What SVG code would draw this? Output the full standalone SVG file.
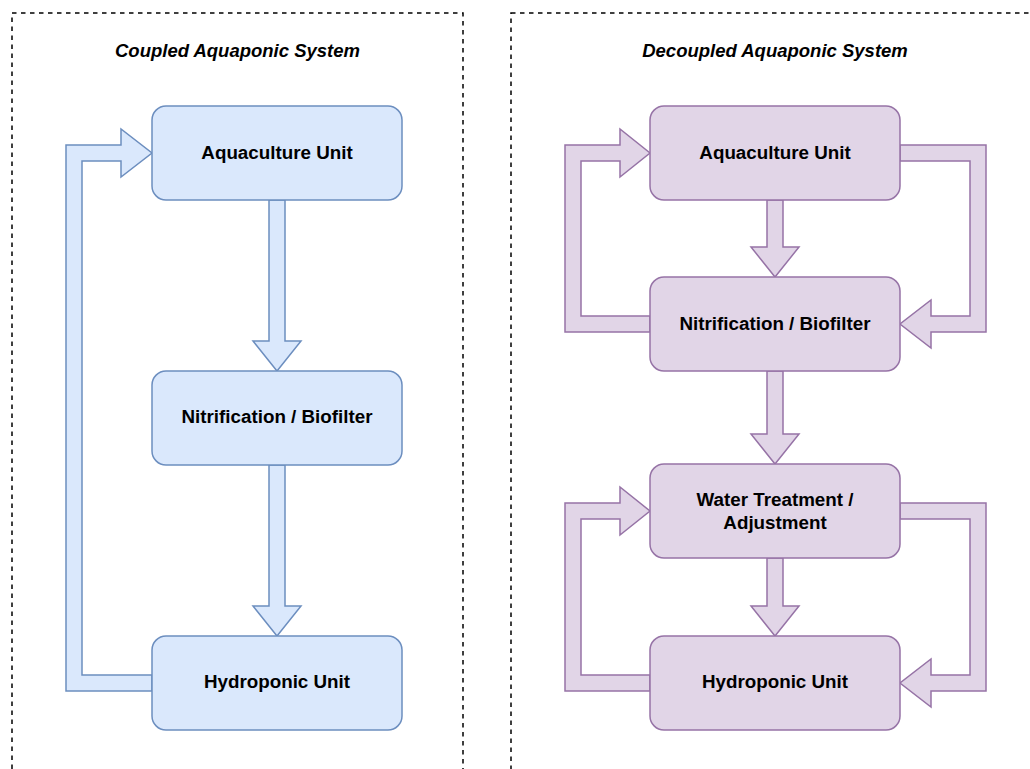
<svg xmlns="http://www.w3.org/2000/svg" width="1030" height="769" viewBox="0 0 1030 769">
  <style>
    .panel { fill: none; stroke: #000000; stroke-width: 1.5; stroke-dasharray: 4.5 4.5; }
    .title { font-family: "Liberation Sans", Arial, Helvetica, sans-serif; font-size: 18.5px; font-weight: bold; font-style: italic; fill: #000000; text-anchor: middle; }
    .label { font-family: "Liberation Sans", Arial, Helvetica, sans-serif; font-size: 18.8px; font-weight: bold; fill: #000000; text-anchor: middle; }
    .nb { fill: #dae8fc; stroke: #6c8ebf; stroke-width: 1.5; }
    .np { fill: #e1d5e7; stroke: #9673a6; stroke-width: 1.5; }
    .ab { fill: #dae8fc; stroke: #6c8ebf; stroke-width: 1.5; stroke-linejoin: miter; }
    .ap { fill: #e1d5e7; stroke: #9673a6; stroke-width: 1.5; stroke-linejoin: miter; }
  </style>
  <rect x="0" y="0" width="1030" height="769" fill="#ffffff"/>

  <g id="panels">
    <rect class="panel" x="12" y="13" width="451" height="800"/>
    <rect class="panel" x="511" y="13" width="600" height="800"/>
    <text class="title" x="237.5" y="56.5">Coupled Aquaponic System</text>
    <text class="title" x="775" y="56.5">Decoupled Aquaponic System</text>
  </g>

  <g id="connectors">
    <!-- Coupled -->
    <polygon class="ab" points="269,200 269,341 253,341 277,371 301,341 285,341 285,200"/>
    <polygon class="ab" points="269,465 269,606 253,606 277,636 301,606 285,606 285,465"/>
    <polygon class="ab" points="152,675 82,675 82,161 121,161 121,177 152,153 121,129 121,145 66,145 66,691 152,691"/>
    <!-- Decoupled -->
    <polygon class="ap" points="767,200 767,247 751,247 775,277 799,247 783,247 783,200"/>
    <polygon class="ap" points="767,371 767,434 751,434 775,464 799,434 783,434 783,371"/>
    <polygon class="ap" points="767,558 767,606 751,606 775,636 799,606 783,606 783,558"/>
    <polygon class="ap" points="650,316 581,316 581,161 620,161 620,177 650,153 620,129 620,145 565,145 565,332 650,332"/>
    <polygon class="ap" points="900,145 986,145 986,332 931,332 931,348 900,324 931,300 931,316 970,316 970,161 900,161"/>
    <polygon class="ap" points="650,675 581,675 581,519 620,519 620,535 650,511 620,487 620,503 565,503 565,691 650,691"/>
    <polygon class="ap" points="900,503 986,503 986,691 931,691 931,707 900,683 931,659 931,675 970,675 970,519 900,519"/>
  </g>

  <g id="c-aquaculture">
    <rect class="nb" x="152" y="106" width="250" height="94" rx="14" ry="14"/>
    <text class="label" x="277" y="158.5">Aquaculture Unit</text>
  </g>
  <g id="c-nitrification">
    <rect class="nb" x="152" y="371" width="250" height="94" rx="14" ry="14"/>
    <text class="label" x="277" y="423">Nitrification / Biofilter</text>
  </g>
  <g id="c-hydroponic">
    <rect class="nb" x="152" y="636" width="250" height="94" rx="14" ry="14"/>
    <text class="label" x="277" y="688">Hydroponic Unit</text>
  </g>

  <g id="d-aquaculture">
    <rect class="np" x="650" y="106" width="250" height="94" rx="14" ry="14"/>
    <text class="label" x="775" y="158.5">Aquaculture Unit</text>
  </g>
  <g id="d-nitrification">
    <rect class="np" x="650" y="277" width="250" height="94" rx="14" ry="14"/>
    <text class="label" x="775" y="329.5">Nitrification / Biofilter</text>
  </g>
  <g id="d-treatment">
    <rect class="np" x="650" y="464" width="250" height="94" rx="14" ry="14"/>
    <text class="label" x="775" y="505.5">Water Treatment /</text>
    <text class="label" x="775" y="529">Adjustment</text>
  </g>
  <g id="d-hydroponic">
    <rect class="np" x="650" y="636" width="250" height="94" rx="14" ry="14"/>
    <text class="label" x="775" y="688">Hydroponic Unit</text>
  </g>
</svg>
